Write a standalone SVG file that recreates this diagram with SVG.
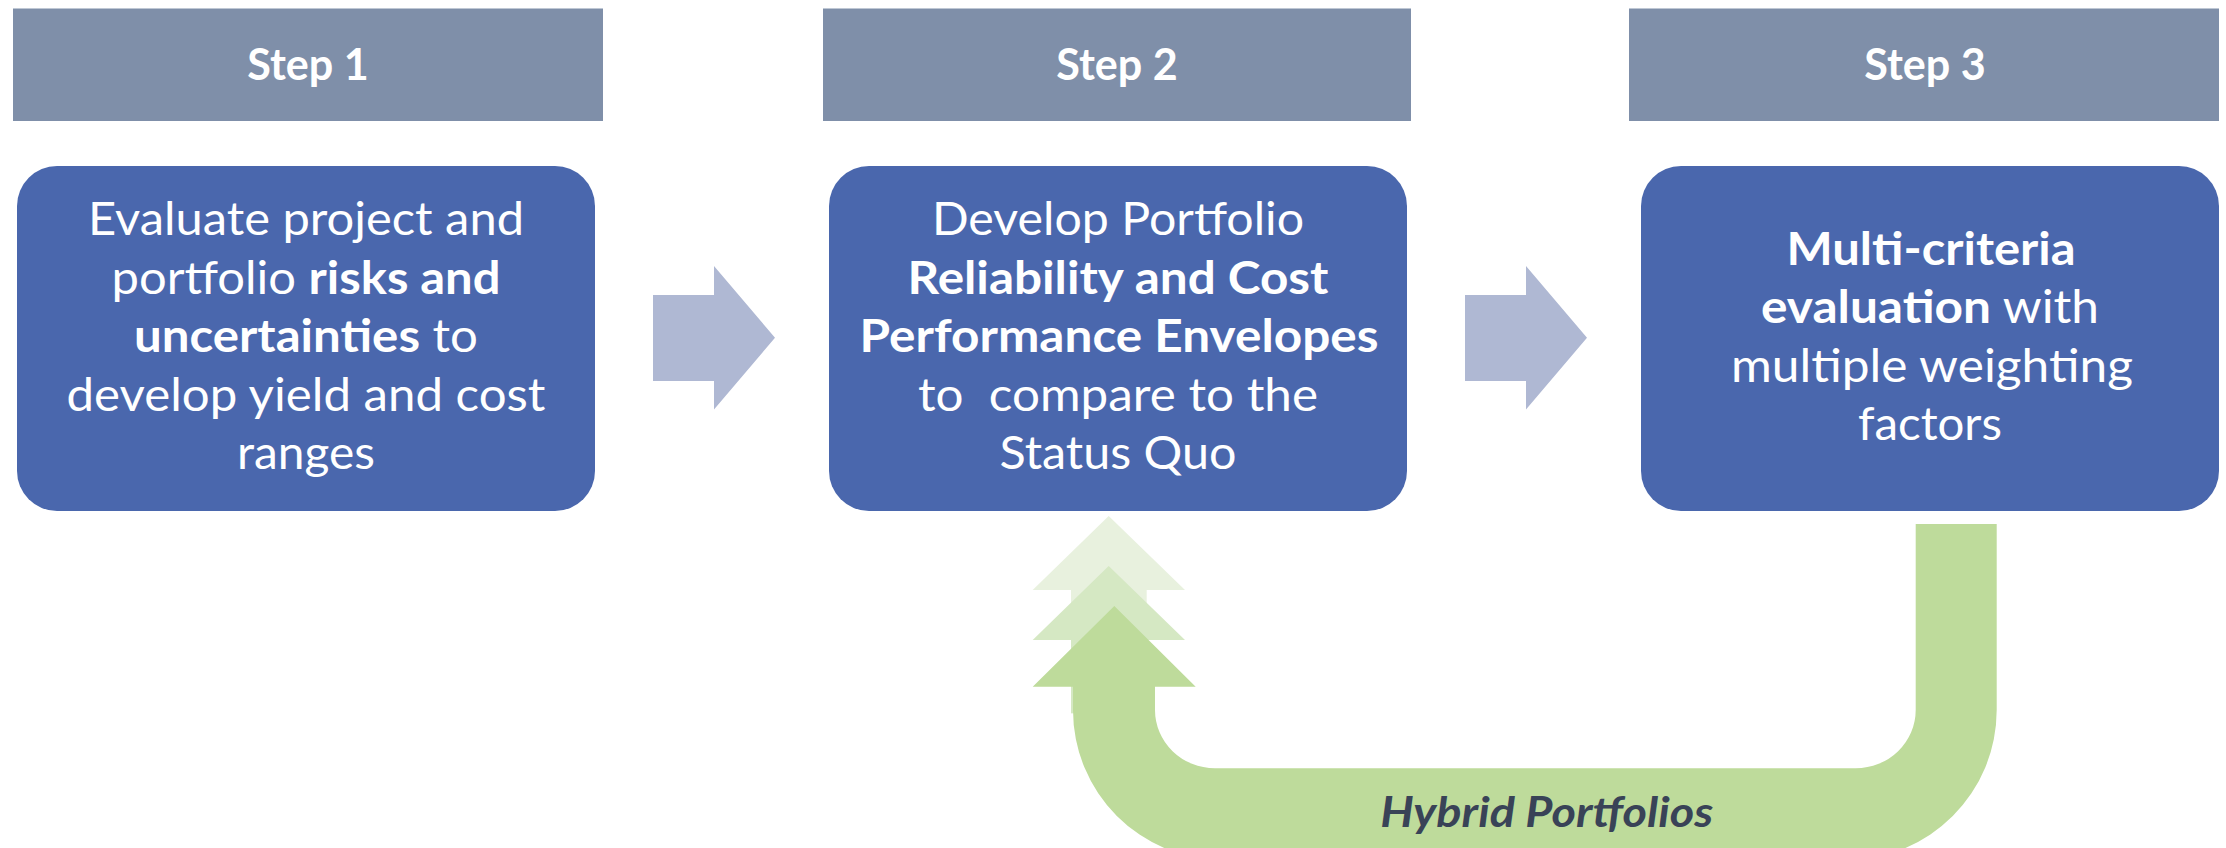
<svg xmlns="http://www.w3.org/2000/svg" width="2226" height="848" viewBox="0 0 2226 848">
  <style>
    .hdr { fill: #7F8FA9; }
    .node { fill: #4A67AD; }
    .step { font-family: Lato, "Liberation Sans", sans-serif; font-weight: 700; font-size: 44px; fill: #FFFFFF; text-anchor: middle; }
    .body { font-family: Lato, "Liberation Sans", sans-serif; font-weight: 400; font-size: 45.5px; fill: #FFFFFF; text-anchor: middle; white-space: pre; }
    .b { font-weight: 700; }
    .arrow { fill: #AFB8D3; }
    .g1 { fill: #E8F1DE; }
    .g2 { fill: #D5E8C3; }
    .g3 { fill: #BEDB9B; }
    .lbl { font-family: Lato, "Liberation Sans", sans-serif; font-weight: 700; font-style: italic; font-size: 42px; fill: #394357; text-anchor: middle; }
  </style>

  <g id="header1">
    <rect class="hdr" x="13" y="8.5" width="590" height="112.5"/>
    <text class="step" x="308" y="80" textLength="121.5" lengthAdjust="spacingAndGlyphs">Step 1</text>
  </g>
  <g id="header2">
    <rect class="hdr" x="823" y="8.5" width="588" height="112.5"/>
    <text class="step" x="1117" y="80" textLength="121.5" lengthAdjust="spacingAndGlyphs">Step 2</text>
  </g>
  <g id="header3">
    <rect class="hdr" x="1629" y="8.5" width="590" height="112.5"/>
    <text class="step" x="1925" y="80" textLength="121.5" lengthAdjust="spacingAndGlyphs">Step 3</text>
  </g>

  <g id="node1">
    <rect class="node" x="17" y="166" width="578" height="345" rx="40" ry="40"/>
    <text class="body" x="306" y="235" textLength="436" lengthAdjust="spacingAndGlyphs">Evaluate project and</text>
    <text class="body" x="306" y="293.5" textLength="389" lengthAdjust="spacingAndGlyphs">portfolio <tspan class="b">risks and</tspan></text>
    <text class="body" x="306" y="352" textLength="344" lengthAdjust="spacingAndGlyphs"><tspan class="b">uncertainties</tspan> to</text>
    <text class="body" x="306" y="410.5" textLength="479" lengthAdjust="spacingAndGlyphs">develop yield and cost</text>
    <text class="body" x="306" y="469" textLength="138" lengthAdjust="spacingAndGlyphs">ranges</text>
  </g>

  <g id="node2">
    <rect class="node" x="829" y="166" width="578" height="345" rx="40" ry="40"/>
    <text class="body" x="1118" y="235" textLength="372" lengthAdjust="spacingAndGlyphs">Develop Portfolio</text>
    <text class="body b" x="1118" y="293.5" textLength="421" lengthAdjust="spacingAndGlyphs">Reliability and Cost</text>
    <text class="body b" x="1119" y="352" textLength="519" lengthAdjust="spacingAndGlyphs">Performance Envelopes</text>
    <text class="body" x="1118" y="410.5" textLength="400" lengthAdjust="spacingAndGlyphs">to  compare to the</text>
    <text class="body" x="1118" y="469" textLength="237" lengthAdjust="spacingAndGlyphs">Status Quo</text>
  </g>

  <g id="node3">
    <rect class="node" x="1641" y="166" width="578" height="345" rx="40" ry="40"/>
    <text class="body b" x="1931" y="264.5" textLength="289" lengthAdjust="spacingAndGlyphs">Multi-criteria</text>
    <text class="body" x="1930" y="323" textLength="338" lengthAdjust="spacingAndGlyphs"><tspan class="b">evaluation</tspan> with</text>
    <text class="body" x="1932" y="381.5" textLength="402" lengthAdjust="spacingAndGlyphs">multiple weighting</text>
    <text class="body" x="1930" y="440" textLength="144" lengthAdjust="spacingAndGlyphs">factors</text>
  </g>

  <g id="connectors">
    <polygon class="arrow" points="653,295 714,295 714,266 775,337.7 714,409.5 714,381 653,381"/>
    <polygon class="arrow" points="1465,295 1526,295 1526,266 1587,337.7 1526,409.5 1526,381 1465,381"/>
    <polygon class="g1" points="1108.7,516 1185,590 1146.7,590 1146.7,713.3 1071,713.3 1071,590 1032.7,590"/>
    <polygon class="g2" points="1108.7,566 1185,640 1146.7,640 1146.7,713.3 1071,713.3 1071,640 1032.7,640"/>
    <path class="g3" d="M1114.3,606 L1195.7,686.7 L1155,686.7 L1155,710 A60,58.3 0 0 0 1215,768.3 L1855.7,768.3 A60,58.3 0 0 0 1915.7,710 L1915.7,524 L1996.7,524 L1996.7,710 A150,150 0 0 1 1846.7,860 L1222.7,860 A150,150 0 0 1 1073,710 L1073,686.7 L1032.7,686.7 Z"/>
    <text class="lbl" x="1546.7" y="826.7" textLength="333" lengthAdjust="spacingAndGlyphs">Hybrid Portfolios</text>
  </g>
</svg>
